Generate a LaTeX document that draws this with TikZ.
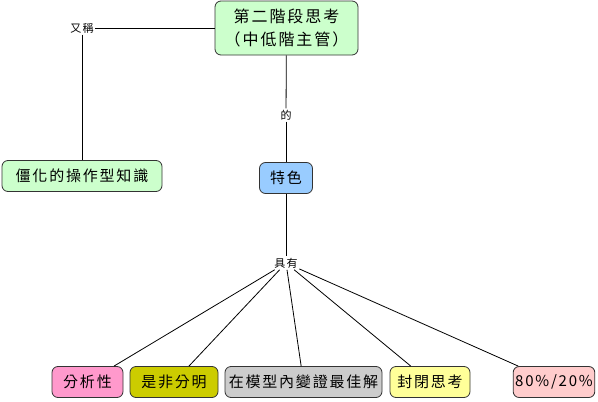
\documentclass[tikz,border=0pt]{standalone}
\usepackage{fontspec}
\newfontfamily\cjk[LetterSpace=12]{Noto Sans CJK TC}
\definecolor{cmgreen}{RGB}{204,255,204}
\definecolor{cmblue}{RGB}{153,204,255}
\definecolor{cmpink}{RGB}{255,153,204}
\definecolor{cmolive}{RGB}{204,204,0}
\definecolor{cmgray}{RGB}{204,204,204}
\definecolor{cmyellow}{RGB}{255,255,153}
\definecolor{cmrose}{RGB}{255,204,204}
\usetikzlibrary{positioning}

\begin{document}
\begin{tikzpicture}[x=1pt,y=-1pt,
  concept/.style={draw=black!80,line width=0.8pt,rounded corners=6pt,minimum height=31pt,inner sep=2pt,font=\cjk\fontsize{15}{23}\selectfont,align=center},
  link/.style={font=\cjk\fontsize{11}{13}\selectfont,inner sep=1.5pt},
  conn/.style={black,line width=0.8pt}]
  \useasboundingbox (0,0) rectangle (598,402);
  % top concept
  \node[concept,fill=cmgreen,minimum width=143pt,minimum height=54pt,font=\cjk\fontsize{16}{23}\selectfont] (stage) at (286.5,28) {第二階段思考\\（中低階主管）};
  \node[link] (alias) at (82,28) {又稱};
  \node[concept,fill=cmgreen,minimum width=160pt] (rigid) at (82,176) {僵化的操作型知識};
  \node[link] (of) at (286,115) {的};
  \node[concept,fill=cmblue,minimum width=53pt] (feat) at (286,178) {特色};
  \node[link] (has) at (286,263) {具有};
  % features
  \node[concept,fill=cmpink,minimum width=71pt] (f1) at (87.5,382) {分析性};
  \node[concept,fill=cmolive,minimum width=88pt] (f2) at (174,382) {是非分明};
  \node[concept,fill=cmgray,minimum width=157pt] (f3) at (303.5,382) {在模型內變證最佳解};
  \node[concept,fill=cmyellow,minimum width=80pt] (f4) at (430,382) {封閉思考};
  \node[concept,fill=cmrose,minimum width=80pt] (f5) at (554,382) {80\%/20\%};
  % connectors
  \draw[conn] (stage) -- (alias);
  \draw[conn] (alias) -- (rigid);
  \draw[conn] (stage) -- (of);
  \draw[conn] (of) -- (feat);
  \draw[conn] (feat) -- (has);
  \foreach \f in {f1,f2,f3,f4,f5}
    \draw[conn] (has) -- (\f);
\end{tikzpicture}
\end{document}
